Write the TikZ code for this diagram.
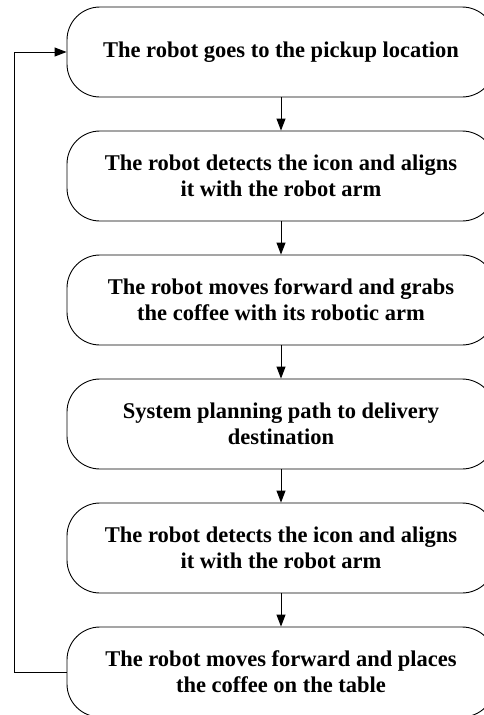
\documentclass[tikz,border=0pt]{standalone}
\usepackage{fontspec}
\setmainfont{Liberation Serif}
\usetikzlibrary{arrows.meta}
\begin{document}
\begin{tikzpicture}[x=1pt,y=-1pt,
  stepbox/.style={draw, line width=0.9pt, rounded corners=33pt, minimum width=428pt, minimum height=90pt,
    align=center, font=\fontsize{22.5}{26}\selectfont\bfseries, inner sep=0pt},
  flow/.style={line width=0.9pt, -{Triangle[length=12pt,width=9pt]}}]
\useasboundingbox (0,0) rectangle (484,715);
\node[stepbox] (b1) at (281,52) {\raisebox{2pt}{The robot goes to the pickup location}};
\node[stepbox] (b2) at (281,176) {The robot detects the icon and aligns\\ it with the robot arm};
\node[stepbox] (b3) at (281,300) {The robot moves forward and grabs\\ the coffee with its robotic arm};
\node[stepbox] (b4) at (281,424) {System planning path to delivery\\ destination};
\node[stepbox] (b5) at (281,548) {The robot detects the icon and aligns\\ it with the robot arm};
\node[stepbox] (b6) at (281,672) {The robot moves forward and places\\ the coffee on the table};
\coordinate (fb) at (14,0);
\draw[flow] (b1) -- (b2);
\draw[flow] (b2) -- (b3);
\draw[flow] (b3) -- (b4);
\draw[flow] (b4) -- (b5);
\draw[flow] (b5) -- (b6);
\draw[flow] (b6.west) -- (b6.west -| fb) -- (b1.west -| fb) -- (b1.west);
\end{tikzpicture}
\end{document}
